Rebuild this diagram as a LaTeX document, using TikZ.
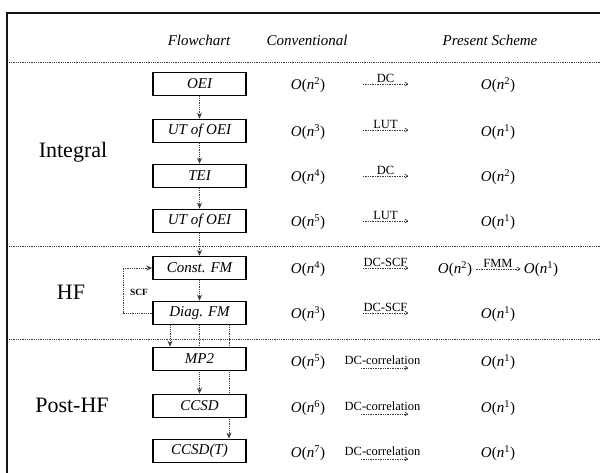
\documentclass[tikz,border=0pt]{standalone}
\usepackage{fontspec}
\setmainfont{Liberation Serif}
\usepackage{tikz}
\usetikzlibrary{arrows.meta,positioning,backgrounds}
\definecolor{frameGray}{RGB}{20,20,20}
\definecolor{dotGray}{RGB}{60,60,60}
\newcommand{\On}[1]{\textit{O}(\textit{n}\textsuperscript{#1})}

\begin{document}
\begin{tikzpicture}[x=1pt,y=-1pt,
  flowbox/.style={draw=black, line width=1.6pt, fill=white, minimum width=93pt, minimum height=23pt, inner sep=0pt, font=\fontsize{15}{17}\selectfont\itshape},
  flowarr/.style={dotGray, densely dotted, line width=0.8pt, -{Stealth[length=6pt,width=5pt]}},
  costarr/.style={dotGray, densely dotted, line width=0.7pt, -{To[length=3.5pt,width=4.5pt]}},
  cost/.style={font=\fontsize{15}{17}\selectfont},
  lbl/.style={text=black, font=\fontsize{12.5}{14}\selectfont, inner sep=1pt},
  header/.style={font=\fontsize{15}{17}\selectfont\itshape},
  section/.style={font=\fontsize{22}{25}\selectfont},
  divider/.style={dotGray, densely dotted, line width=0.8pt}]
\useasboundingbox (0,0) rectangle (600,473);

% frame and dividers
\draw[frameGray, line width=1.6pt] (7,473) -- (7,13) -- (600,13);
\draw[divider] (9,62) -- (600,62);
\draw[divider] (9,246) -- (600,246);
\draw[divider] (9,339) -- (600,339);

% headers
\node[header] (hflow) at (199,40) {Flowchart};
\node[header] (hconv) at (307,40) {Conventional};
\node[header] (hpres) at (490,40) {Present Scheme};

% sections
\node[section] (sint) at (73,152) {Integral};
\node[section] (shf) at (71,292) {HF};
\node[section] (spost) at (72,405) {Post-HF};

% flowchart boxes
\node[flowbox] (oei) at (199.5,84) {OEI};
\node[flowbox] (utoei) at (199.5,131) {UT of OEI};
\node[flowbox] (tei) at (199.5,176) {TEI};
\node[flowbox] (utoeib) at (199.5,221) {UT of OEI};
\node[flowbox] (cfm) at (199.5,268) {Const. FM};
\node[flowbox] (dfm) at (199.5,313) {Diag. FM};
\node[flowbox] (mp) at (199.5,359) {MP2};
\node[flowbox] (ccsd) at (199.5,406) {CCSD};
\node[flowbox] (ccsdt) at (199.5,451) {CCSD(T)};

\begin{scope}[on background layer]
\draw[flowarr] (oei) -- (utoei);
\draw[flowarr] (utoei) -- (tei);
\draw[flowarr] (tei) -- (utoeib);
\draw[flowarr] (utoeib) -- (cfm);
\draw[flowarr] (cfm) -- (dfm);
\draw[flowarr] (dfm.west) -- ++(-29,0) |- (cfm.west);
\draw[flowarr] ([xshift=-29.5pt]dfm.south) -- ([xshift=-29.5pt]mp.north);
\draw[flowarr] (dfm.south) -- (ccsd.north);
\draw[flowarr] ([xshift=29.5pt]dfm.south) -- ([xshift=29.5pt]ccsdt.north);
\end{scope}
\node[font=\fontsize{9.5}{11}\selectfont\bfseries] (scf) at (139,292) {SCF};

% conventional scaling
\node[cost] (c1) at (308,85) {\On{2}};
\node[cost] (c2) at (308,132) {\On{3}};
\node[cost] (c3) at (308,177) {\On{4}};
\node[cost] (c4) at (308,222) {\On{5}};
\node[cost] (c5) at (308,269) {\On{4}};
\node[cost] (c6) at (308,314) {\On{3}};
\node[cost] (c7) at (308,362) {\On{5}};
\node[cost] (c8) at (308,408) {\On{6}};
\node[cost] (c9) at (308,453) {\On{7}};

% present scheme scaling
\node[cost] (p1) at (498,85) {\On{2}};
\node[cost] (p2) at (498,132) {\On{1}};
\node[cost] (p3) at (498,177) {\On{2}};
\node[cost] (p4) at (498,222) {\On{1}};
\node[cost] (p5a) at (455,269) {\On{2}};
\node[cost] (p5b) at (541,269) {\On{1}};
\node[cost] (p6) at (498,314) {\On{1}};
\node[cost] (p7) at (498,362) {\On{1}};
\node[cost] (p8) at (498,408) {\On{1}};
\node[cost] (p9) at (498,453) {\On{1}};

% reduction arrows
\coordinate (a1s) at (363,84);  \coordinate (a1e) at (408,84);
\coordinate (a2s) at (363,130); \coordinate (a2e) at (408,130);
\coordinate (a3s) at (363,176); \coordinate (a3e) at (408,176);
\coordinate (a4s) at (363,221); \coordinate (a4e) at (408,221);
\coordinate (a5s) at (363,268); \coordinate (a5e) at (408,268);
\coordinate (a6s) at (363,313); \coordinate (a6e) at (408,313);
\coordinate (a7s) at (361,368); \coordinate (a7e) at (408,368);
\coordinate (a8s) at (361,414); \coordinate (a8e) at (408,414);
\coordinate (a9s) at (361,459); \coordinate (a9e) at (408,459);
\draw[costarr] (a1s) -- node[above, lbl] (l1) {DC} (a1e);
\draw[costarr] (a2s) -- node[above, lbl] (l2) {LUT} (a2e);
\draw[costarr] (a3s) -- node[above, lbl] (l3) {DC} (a3e);
\draw[costarr] (a4s) -- node[above, lbl] (l4) {LUT} (a4e);
\draw[costarr] (a5s) -- node[above, lbl] (l5) {DC-SCF} (a5e);
\draw[costarr] (a6s) -- node[above, lbl] (l6) {DC-SCF} (a6e);
\draw[costarr] (a7s) -- node[above=2pt, lbl, xshift=-2pt] (l7) {DC-correlation} (a7e);
\draw[costarr] (a8s) -- node[above=2pt, lbl, xshift=-2pt] (l8) {DC-correlation} (a8e);
\draw[costarr] (a9s) -- node[above=2pt, lbl, xshift=-2pt] (l9) {DC-correlation} (a9e);
\draw[costarr] (p5a) -- node[above, lbl] (lf) {FMM} (p5b);
\end{tikzpicture}
\end{document}
